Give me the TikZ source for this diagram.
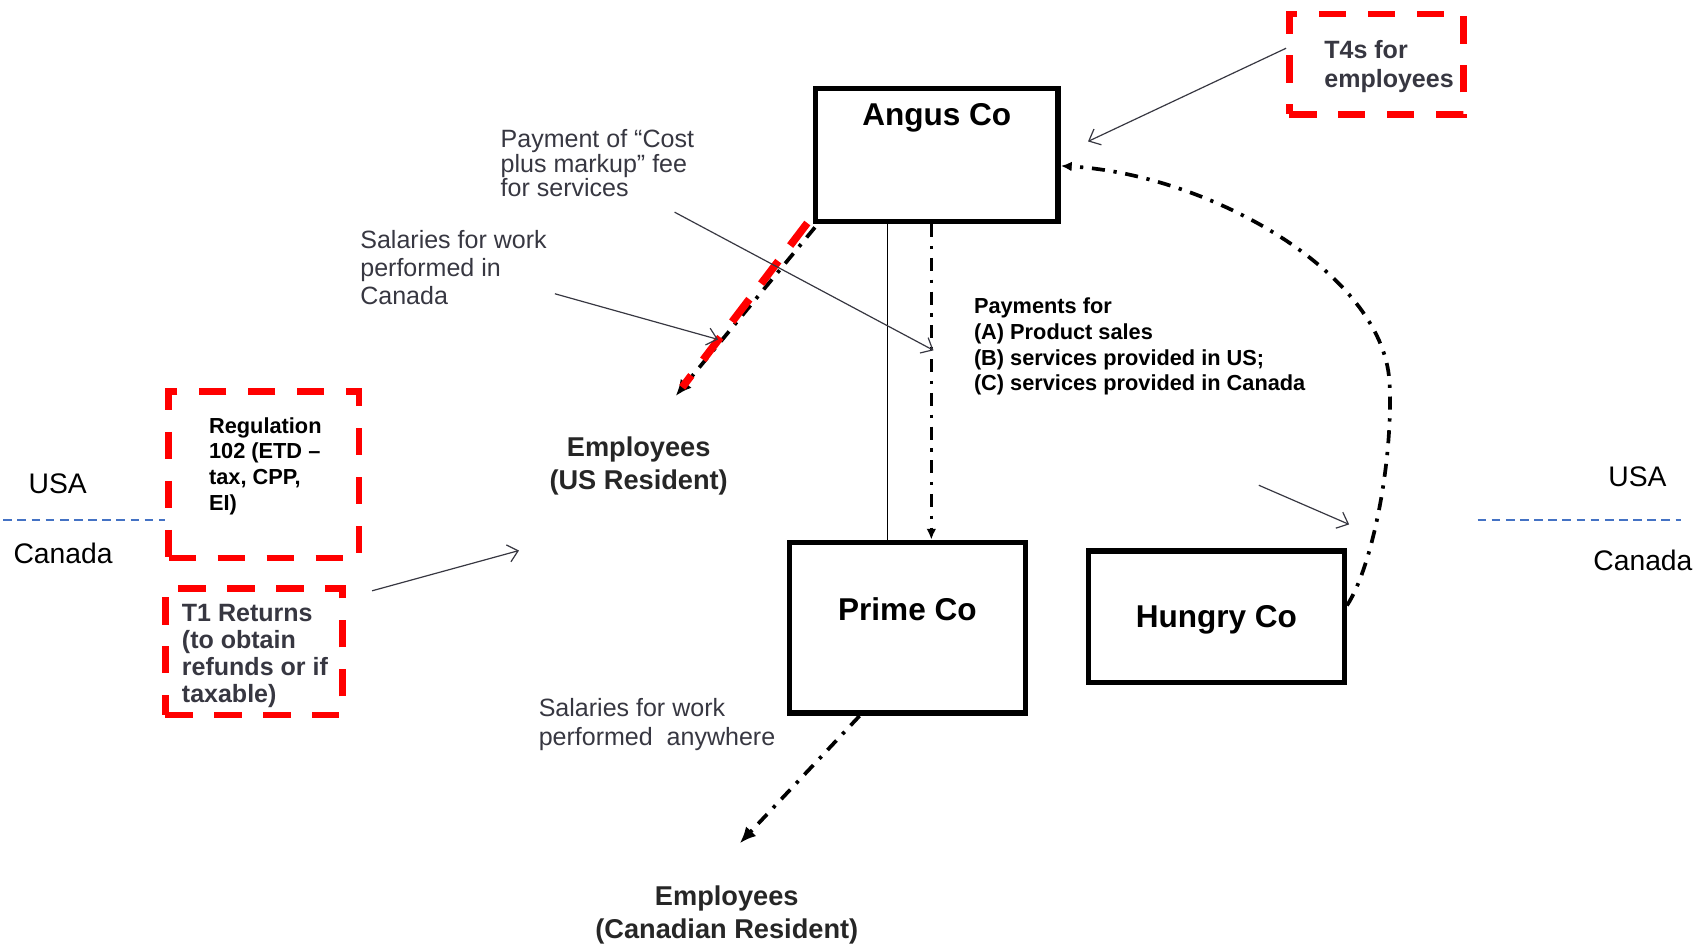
\documentclass[tikz,border=0pt]{standalone}
\usepackage{fontspec}
\setmainfont{Liberation Sans}
\usetikzlibrary{arrows.meta}
\definecolor{ink}{RGB}{55,55,65}
\definecolor{borderblue}{RGB}{68,114,196}
\begin{document}
\begin{tikzpicture}[x=1pt,y=-1pt,
  company/.style={draw=black, line width=5pt, inner sep=0pt},
  companylabel/.style={font=\fontsize{29}{32}\selectfont\bfseries, inner sep=0pt},
  redbox/.style={draw=red, line width=6pt, dash pattern=on 25pt off 20pt, inner sep=0pt},
  flow/.style={line width=3.4pt, dash pattern=on 12pt off 8pt on 3pt off 8pt,
    -{Latex[length=15pt,width=13pt]}},
  smallflow/.style={line width=3.4pt, dash pattern=on 12pt off 8pt on 3pt off 8pt,
    -{Latex[length=10pt,width=9pt]}},
  redflow/.style={draw=red, line width=7pt, dash pattern=on 26pt off 18pt},
  note/.style={draw=ink, line width=1.1pt, -{Straight Barb[length=9pt,width=16pt]}},
  plain/.style={font=\fontsize{23}{25}\selectfont, text=ink, align=left, inner sep=0pt, anchor=west},
  bnote/.style={font=\fontsize{23}{27}\selectfont\bfseries, text=ink, align=left, inner sep=0pt, anchor=west},
  bsmall/.style={font=\fontsize{20}{23.7}\selectfont\bfseries, align=left, inner sep=0pt, anchor=west},
  staff/.style={font=\fontsize{25}{30}\selectfont\bfseries, text=black!85, align=center, inner sep=0pt},
  country/.style={font=\fontsize{26}{28}\selectfont, inner sep=0pt},
  boundary/.style={draw=borderblue, line width=1.5pt, dash pattern=on 8pt off 5pt}
]
\useasboundingbox (0,0) rectangle (1568,870);

% border between the two countries
\draw[boundary] (3,478) -- (152,478);
\draw[boundary] (1358,478) -- (1545,478);
\node[country] (usaL) at (53,445) {USA};
\node[country] (canL) at (58,509) {Canada};
\node[country] (usaR) at (1505,438) {USA};
\node[country] (canR) at (1510,515) {Canada};

% companies
\node[company, minimum width=223pt, minimum height=122pt,
  label={[companylabel, yshift=34.5pt]center:Angus Co}] (angus) at (861,142.5) {};
\node[company, minimum width=217pt, minimum height=157pt,
  label={[companylabel, yshift=17pt]center:Prime Co}] (prime) at (834,577) {};
\node[company, minimum width=235pt, minimum height=121pt,
  label={[companylabel, yshift=-3pt]center:Hungry Co}] (hungry) at (1118,567) {};

% employee groups
\node[staff] (usemp) at (587,428) {Employees\\(US Resident)};
\node[staff] (caemp) at (668,841) {Employees\\(Canadian Resident)};

% compliance boxes
\node[redbox, minimum width=160pt, minimum height=92pt] (t4box) at (1265,59) {};
\node[bnote] (t4text) at (1217,61) {T4s for\\employees};
\node[redbox, minimum width=175pt, minimum height=153pt] (regbox) at (242.5,436.5) {};
\node[bsmall] (regtext) at (192,428.5) {Regulation\\102 (ETD –\\tax, CPP,\\EI)};
\node[redbox, minimum width=163pt, minimum height=116pt] (t1box) at (233.5,599) {};
\node[bnote, font=\fontsize{23}{24.7}\selectfont\bfseries] (t1text) at (167,603) {T1 Returns\\(to obtain\\refunds or if\\taxable)};

% annotations
\node[plain, font=\fontsize{23}{22.5}\selectfont] (costfee) at (460,150) {Payment of “Cost\\plus markup” fee\\for services};
\node[plain, font=\fontsize{23}{25.5}\selectfont] (salcan) at (331,246) {Salaries for work\\performed in\\Canada};
\node[plain, font=\fontsize{23}{26}\selectfont] (salany) at (495,666) {Salaries for work\\performed\ \ anywhere};
\node[bsmall] (payments) at (895,318.5) {Payments for\\(A) Product sales\\(B) services provided in US;\\(C) services provided in Canada};

% free arrow ends
\coordinate (t4tip) at (1000,130);
\coordinate (usemptip) at (621,364);
\coordinate (redstart) at (742,205);
\coordinate (redend) at (627,356);
\coordinate (caemptip) at (680,775);
\coordinate (costfrom) at (620,195);
\coordinate (costtip) at (858,322);
\coordinate (salfrom) at (510,270);
\coordinate (saltip) at (660,312);
\coordinate (t1from) at (342,543);
\coordinate (t1tip) at (477,506);
\coordinate (hgfrom) at (1157,446);
\coordinate (hgtip) at (1240,482);

% ownership link and payment flows
\draw[line width=1.2pt] ([xshift=-45pt]angus.south) -- ([xshift=-18pt]prime.north);
\draw[smallflow] ([xshift=-5pt]angus.south) -- ([xshift=22pt]prime.north);
\draw[smallflow] (hungry.5) .. controls (1262,520) and (1281,420) .. (1277,350)
  .. controls (1270,250) and (1110,160) .. (angus.-5);
\draw[flow] ([xshift=2pt,yshift=-3pt]angus.south west) -- (usemptip);
\draw[redflow] (redstart) -- (redend);
\draw[flow] ([xshift=-44pt]prime.south) -- (caemptip);

% pointers from the notes
\draw[note] (t4box.170) -- (t4tip);
\draw[note] (costfrom) -- (costtip);
\draw[note] (salfrom) -- (saltip);
\draw[note] (t1from) -- (t1tip);
\draw[note] (hgfrom) -- (hgtip);
\end{tikzpicture}
\end{document}
